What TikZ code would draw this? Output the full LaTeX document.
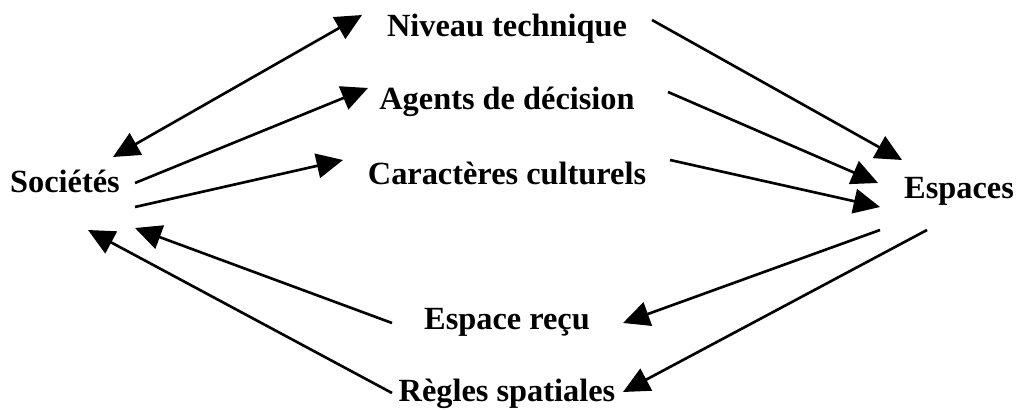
\documentclass[tikz,border=0pt]{standalone}
\usepackage{fontspec}
\setmainfont{Liberation Serif}
\usetikzlibrary{arrows.meta}

\tikzset{
  lbl/.style={anchor=base, inner sep=0pt, font=\fontsize{9.2}{11}\selectfont\bfseries},
  tip/.style={-{Triangle[length=7.5pt,width=7pt]}},
  fl/.style={line width=0.75pt, tip},
}

\begin{document}
\begin{tikzpicture}[x=0.01cm, y=-0.01cm]
  \useasboundingbox (0,0) rectangle (1019,410);
  % the two poles
  \node[lbl] (soc) at (65,193) {Sociétés};
  \node[lbl] (esp) at (959,199) {Espaces};
  % middle terms
  \node[lbl] (niv) at (507,37) {Niveau technique};
  \node[lbl] (age) at (507,110) {Agents de décision};
  \node[lbl] (car) at (507,185) {Caractères culturels};
  \node[lbl] (rec) at (507,330) {Espace reçu};
  \node[lbl] (reg) at (507,402) {Règles spatiales};

  % upper arrows
  \draw[fl, {Triangle[length=7.5pt,width=7pt]}-{Triangle[length=7.5pt,width=7pt]}]
    ([shift={(48,-36)}]soc.base) -- ([shift={(-145,-22)}]niv.base);
  \draw[fl] ([shift={(70,-10)}]soc.base) -- ([shift={(-139,-22)}]age.base);
  \draw[fl] ([shift={(70,14)}]soc.base) -- ([shift={(-164,-25)}]car.base);
  \draw[fl] ([shift={(145,-17)}]niv.base) -- ([shift={(-57,-39)}]esp.base);
  \draw[fl] ([shift={(161,-18)}]age.base) -- ([shift={(-81,-16)}]esp.base);
  \draw[fl] ([shift={(163,-25)}]car.base) -- ([shift={(-79,8)}]esp.base);
  % lower arrows
  \draw[fl] ([shift={(-79,31)}]esp.base) -- ([shift={(116,-7)}]rec.base);
  \draw[fl] ([shift={(-32,31)}]esp.base) -- ([shift={(116,-10)}]reg.base);
  \draw[fl] ([shift={(-115,-7)}]rec.base) -- ([shift={(70,35)}]soc.base);
  \draw[fl] ([shift={(-115,-9)}]reg.base) -- ([shift={(23,37)}]soc.base);
\end{tikzpicture}
\end{document}
